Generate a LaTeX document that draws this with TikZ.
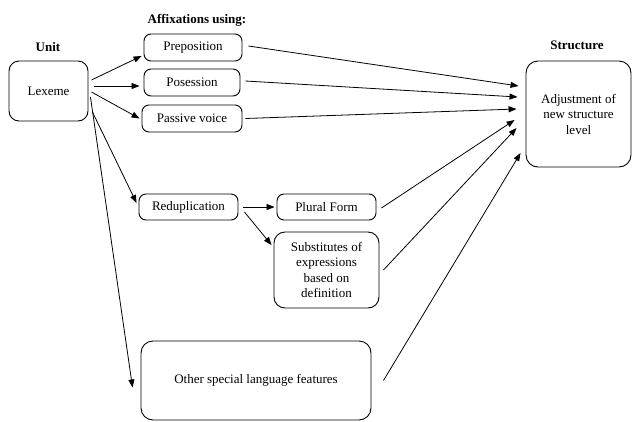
\documentclass[tikz,border=0pt]{standalone}
\usepackage{fontspec}
\setmainfont{Liberation Serif}
\usetikzlibrary{arrows.meta}
\begin{document}
\begin{tikzpicture}[x=1pt,y=-1pt,
  box/.style={draw, line width=0.9pt, rounded corners=7pt, align=center,
    inner sep=0pt, font=\rmfamily\fontsize{13}{15.5}\selectfont},
  bigbox/.style={box, rounded corners=12pt},
  head/.style={font=\rmfamily\fontsize{13}{15}\selectfont\bfseries},
  link/.style={line width=0.8pt, -{Triangle[length=8pt,width=6pt]}}]
\useasboundingbox (0,0) rectangle (634,421);

% headings
\node[head] (hunit) at (48,47) {Unit};
\node[head] (haff) at (197,20) {Affixations using:};
\node[head] (hstr) at (577,45) {Structure};

% boxes
\node[box, rounded corners=10pt, minimum width=79pt, minimum height=60pt] (lex) at (48.5,91) {Lexeme};
\node[box, minimum width=98pt, minimum height=27pt] (prep) at (193,47.5) {Preposition};
\node[box, minimum width=96pt, minimum height=27pt] (pos) at (192,82.5) {Posession};
\node[box, minimum width=100pt, minimum height=27pt] (pass) at (192,118.5) {Passive voice};
\node[box, minimum width=99pt, minimum height=26pt] (redup) at (188.5,207) {Reduplication};
\node[box, minimum width=99pt, minimum height=26pt] (plural) at (326.5,207) {Plural Form};
\node[box, rounded corners=11pt, minimum width=105pt, minimum height=76pt] (subst) at (326.5,270)
  {Substitutes of\\expressions\\based on\\definition};
\node[bigbox, minimum width=230pt, minimum height=79pt] (other) at (256,380.5) {Other special language features};
\node[bigbox, minimum width=105pt, minimum height=106pt] (str) at (578.5,114)
  {Adjustment of\\new structure\\level};

% from the unit
\draw[link] ([xshift=3pt,yshift=11pt]lex.east) -- ([xshift=-2pt,yshift=-8.5pt]prep.west);
\draw[link] ([xshift=6pt,yshift=5pt]lex.east) -- ([xshift=-4pt,yshift=-3.5pt]pos.west);
\draw[link] ([xshift=3pt,yshift=-1pt]lex.east) -- ([xshift=-2pt]pass.west);
\draw[link] ([xshift=4pt,yshift=-21pt]lex.east) -- ([xshift=-2pt,yshift=4pt]redup.west);
\draw[link] ([xshift=2pt,yshift=-6pt]lex.east) -- ([xshift=-8pt,yshift=-7pt]other.west);

% reduplication branches
\draw[link] ([xshift=5pt]redup.east) -- ([xshift=-2pt]plural.west);
\draw[link] ([xshift=6pt,yshift=-5pt]redup.east) -- ([xshift=-2pt,yshift=25pt]subst.west);

% into the structure
\draw[link] ([xshift=6pt,yshift=1.5pt]prep.east) -- ([xshift=-7pt,yshift=28pt]str.west);
\draw[link] ([xshift=5pt,yshift=1.5pt]pos.east) -- ([xshift=-8pt,yshift=17pt]str.west);
\draw[link] ([xshift=3pt]pass.east) -- ([xshift=-9pt,yshift=5pt]str.west);
\draw[link] ([xshift=5pt,yshift=-1pt]plural.east) -- ([xshift=-11pt,yshift=-6pt]str.west);
\draw[link] ([xshift=4pt]subst.east) -- ([xshift=-9pt,yshift=-14pt]str.west);
\draw[link] ([xshift=12pt]other.east) -- ([xshift=-5pt,yshift=-39pt]str.west);
\end{tikzpicture}
\end{document}
